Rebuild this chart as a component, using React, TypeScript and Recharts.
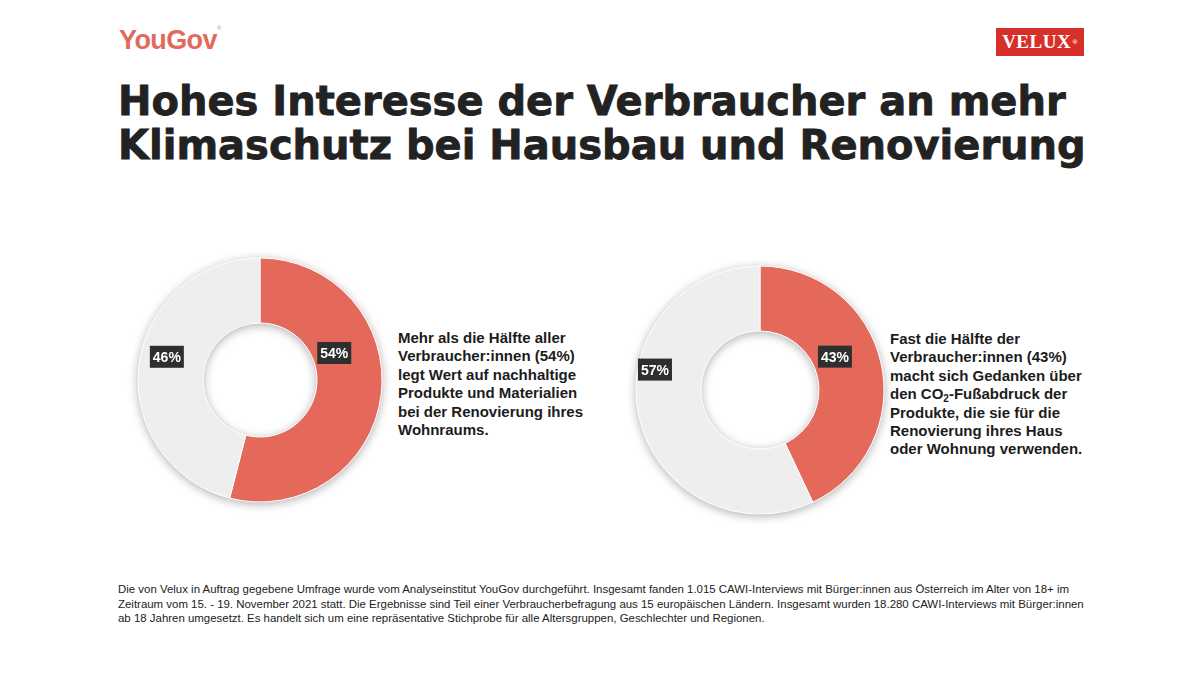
import { PieChart, Pie, Cell } from 'recharts';

const TITLE_LINES = ['Hohes Interesse der Verbraucher an mehr', 'Klimaschutz bei Hausbau und Renovierung'];

const SLICE_NAMES = ['Ja', 'Andere'];
const LEFT_VALUES = [54, 46];
const RIGHT_VALUES = [43, 57];

const LEFT_TEXT = [
  'Mehr als die Hälfte aller',
  'Verbraucher:innen (54%)',
  'legt Wert auf nachhaltige',
  'Produkte und Materialien',
  'bei der Renovierung ihres',
  'Wohnraums.',
];

const RIGHT_TEXT = [
  'Fast die Hälfte der',
  'Verbraucher:innen (43%)',
  'macht sich Gedanken über',
  'den CO|-Fußabdruck der',
  'Produkte, die sie für die',
  'Renovierung ihres Haus',
  'oder Wohnung verwenden.',
];

const FOOTNOTE = [
  'Die von Velux in Auftrag gegebene Umfrage wurde vom Analyseinstitut YouGov durchgeführt. Insgesamt fanden 1.015 CAWI-Interviews mit Bürger:innen aus Österreich im Alter von 18+ im',
  'Zeitraum vom 15. - 19. November 2021 statt. Die Ergebnisse sind Teil einer Verbraucherbefragung aus 15 europäischen Ländern. Insgesamt wurden 18.280 CAWI-Interviews mit Bürger:innen',
  'ab 18 Jahren umgesetzt. Es handelt sich um eine repräsentative Stichprobe für alle Altersgruppen, Geschlechter und Regionen.',
];

const COLORS = ['#e4695a', '#eeeeee'];
const FONT = '"Liberation Sans", Arial, sans-serif';

// where the value boxes sit (angle in degrees, distance from centre)
type LabelSpot = { angle: number; r: number };

function Donut({ values, size, outer, inner, spots }: { values: number[]; size: number; outer: number; inner: number; spots: LabelSpot[] }) {
  const data = SLICE_NAMES.map((name, i) => ({ name, value: values[i] }));

  const renderLabel = (p: any) => {
    const s = spots[p.index];
    const rad = (s.angle * Math.PI) / 180;
    const x = p.cx + s.r * Math.cos(rad);
    const y = p.cy - s.r * Math.sin(rad);
    return (
      <g>
        <rect x={x - 17} y={y - 11} width={34} height={22} fill="#2e2e2e" />
        <text x={x} y={y + 5} textAnchor="middle" fill="#fff" fontSize={14} fontWeight={700} fontFamily={FONT}>
          {p.value}%
        </text>
      </g>
    );
  };

  return (
    <div style={{ filter: 'drop-shadow(0px 2px 5px rgba(0,0,0,0.3))' }}>
      <PieChart width={size} height={size}>
        <Pie
          data={data}
          dataKey="value"
          startAngle={90}
          endAngle={-270}
          outerRadius={outer}
          innerRadius={inner}
          stroke="#ffffff"
          strokeWidth={1}
          label={renderLabel}
          labelLine={false}
          isAnimationActive={false}
        >
          {data.map((d, i) => <Cell key={d.name} fill={COLORS[i]} />)}
        </Pie>
      </PieChart>
    </div>
  );
}

const textBlock = { fontFamily: FONT, fontWeight: 700, fontSize: 15, lineHeight: '18.4px', color: '#1c1c1c' } as const;

// "|" marks where the subscript 2 goes
const line = (t: string) => {
  const parts = t.split('|');
  if (parts.length === 1) return t;
  return <>{parts[0]}<sub style={{ fontSize: 10, verticalAlign: '-3px' }}>2</sub>{parts[1]}</>;
};

export default function App() {
  return (
    <div style={{ position: 'absolute', left: 0, top: 0, width: 1200, height: 675, background: '#fff', overflow: 'hidden', fontFamily: FONT }}>
      {/* logos */}
      <div style={{ position: 'absolute', left: 119, top: 25, fontSize: 27, fontWeight: 700, color: '#e06b5d', letterSpacing: -0.6 }}>
        YouGov<span style={{ fontSize: 6, verticalAlign: 'top', color: '#bbb' }}>®</span>
      </div>
      <div style={{
        position: 'absolute', left: 996, top: 28, width: 88, height: 28, background: '#d7302a', color: '#fff',
        fontFamily: '"Liberation Serif", "DejaVu Serif", serif', fontWeight: 700, fontSize: 19,
        display: 'flex', alignItems: 'center', justifyContent: 'center', letterSpacing: 0.5,
      }}>
        VELUX<span style={{ fontSize: 7, marginLeft: 1 }}>®</span>
      </div>

      {/* title */}
      <div style={{
        position: 'absolute', left: 118, top: 79, fontSize: 40, fontWeight: 700, lineHeight: '44px', color: '#222',
        fontFamily: '"DejaVu Sans", sans-serif', WebkitTextStroke: '0.8px #222', whiteSpace: 'nowrap',
      }}>
        {TITLE_LINES.map((t) => <div key={t}>{t}</div>)}
      </div>

      {/* left donut */}
      <div style={{ position: 'absolute', left: 120, top: 240 }}>
        <Donut values={LEFT_VALUES} size={280} outer={122} inner={57}
          spots={[{ angle: 20, r: 79 }, { angle: 166, r: 96 }]} />
      </div>
      <div style={{ ...textBlock, position: 'absolute', left: 398, top: 329 }}>
        {LEFT_TEXT.map((t) => <div key={t}>{t}</div>)}
      </div>

      {/* right donut */}
      <div style={{ position: 'absolute', left: 620, top: 250 }}>
        <Donut values={RIGHT_VALUES} size={280} outer={124} inner={59}
          spots={[{ angle: 24, r: 82 }, { angle: 169, r: 107 }]} />
      </div>
      <div style={{ ...textBlock, position: 'absolute', left: 890, top: 330 }}>
        {RIGHT_TEXT.map((t) => <div key={t} style={{ height: 18.4 }}>{line(t)}</div>)}
      </div>

      {/* footnote */}
      <div style={{ position: 'absolute', left: 118, top: 582, fontSize: 11.45, lineHeight: '14.6px', color: '#222', whiteSpace: 'nowrap' }}>
        {FOOTNOTE.map((t) => <div key={t}>{t}</div>)}
      </div>
    </div>
  );
}
